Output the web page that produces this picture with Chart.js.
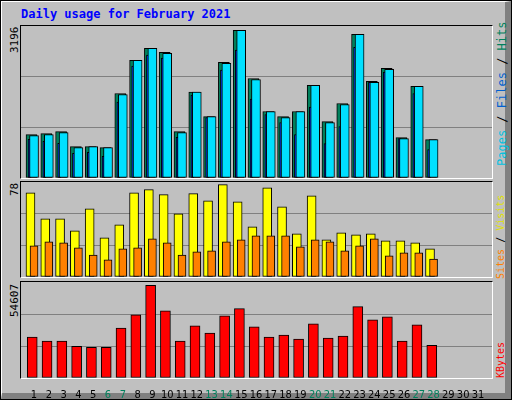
<!DOCTYPE html>
<html>
<head>
<meta charset="utf-8">
<script src="https://cdn.jsdelivr.net/npm/chart.js@4"></script>
<style>
body { margin:0; background:#fff; }
#box { position:absolute; left:0; top:0; width:510px; height:398px; border:1px solid #000; background:#c0c0c0; overflow:hidden; font-family:"DejaVu Sans Mono", monospace; }
#edge { position:absolute; left:0; top:0; width:503px; height:391px; border-top:1px solid #fff; border-left:1px solid #fff; border-right:6px solid #808080; border-bottom:6px solid #808080; box-sizing:content-box; }
.title { position:absolute; left:20px; top:6px; color:#0000ff; font-weight:bold; font-size:12px; }
.panel { position:absolute; left:19px; width:471px; border-top:1px solid #000; border-left:1px solid #000; border-right:1px solid #fff; border-bottom:1px solid #fff; }
canvas { position:absolute; }
.vl { position:absolute; font-size:11px; white-space:nowrap; transform-origin:0 0; transform:rotate(-90deg); }
</style>
</head>
<body>
<div id="box">
  <div id="edge"></div>
  <div class="title">Daily usage for February 2021</div>
  <div class="panel" style="top:24px;height:152px"></div>
  <div class="panel" style="top:180px;height:95px"></div>
  <div class="panel" style="top:280px;height:96px"></div>
  <div class="vl" style="left:7px;top:52px;color:#000">3196</div>
  <div class="vl" style="left:7px;top:195px;color:#000">78</div>
  <div class="vl" style="left:7px;top:316px;color:#000">54607</div>
  <div class="vl" style="left:494px;top:165px;font-size:12px"><span style="color:#00c0e0">Pages</span> / <span style="color:#0060d0">Files</span> / <span style="color:#00805c">Hits</span></div>
  <div class="vl" style="left:494px;top:278px;font-size:10px"><span style="color:#ff8000">Sites</span> / <span style="color:#e0e000">Visits</span></div>
  <div class="vl" style="left:494px;top:377px;font-size:10px;color:#ff0000">KBytes</div>
  <canvas id="c1" style="left:20px;top:25px"></canvas>
  <canvas id="c2" style="left:20px;top:181px"></canvas>
  <canvas id="c3" style="left:20px;top:281px"></canvas>
</div>
<script>
// valori
const days = [1,2,3,4,5,6,7,8,9,10,11,12,13,14,15,16,17,18,19,20,21,22,23,24,25,26,27,28];
const tickDays = [1,2,3,4,5,6,7,8,9,10,11,12,13,14,15,16,17,18,19,20,21,22,23,24,25,26,27,28,29,30,31];
const weekendDays = [6,7,13,14,20,21,27,28];

const hits = [913,934,976,660,660,639,1777,2472,2725,2641,976,1805,1292,2430,3105,2093,1398,1292,1398,1946,1187,1566,3020,2030,2304,850,1925,808];
const files = [892,913,955,639,660,639,1756,2472,2725,2620,955,1805,1292,2409,3105,2072,1398,1271,1398,1946,1166,1545,3020,2009,2283,829,1925,808];
const pages = [815,773,730,520,541,457,1594,2353,2585,2522,857,1742,1271,2269,2690,1658,1335,1166,913,1489,723,1082,2746,2009,2227,829,1777,597];

const visits = [69.2,47.8,47.8,37.9,56,32.1,42.8,69.2,71.7,67.6,51.9,68.4,62.6,75.8,61.8,41.2,73.3,57.7,35.4,66.7,30.5,36.3,34.6,35.4,29.7,29.7,28,23.1];
const sites = [25.5,28.8,28,23.9,18.1,14,23.1,23.9,31.3,28,18.1,20.6,21.4,28.8,30.5,33.8,33.8,33.8,24.7,30.5,28.8,21.4,25.5,31.3,17.3,19.8,19.8,14.8];

const kbytes = [23268,20960,20960,18076,17499,17499,28460,35958,52687,38266,20960,29613,25575,35382,39420,29036,23268,24421,22114,30767,22691,23844,40574,33075,34806,20960,30190,18653];

const maxHits = 3196, maxVisits = 78, maxKB = 54607;

function pts(vals, off) {
    return vals.map((v, i) => ({ x: days[i] + off, y: v }));
}

function ds(vals, off, color, w, order) {
    return { data: pts(vals, off), backgroundColor: color, borderColor: '#000', borderWidth: 1,
             borderSkipped: false, barThickness: w, grouped: false, order: order };
}

function makeChart(id, w, h, datasets, max, showTicks) {
    const cv = document.getElementById(id);
    cv.width = w; cv.height = h;
    cv.style.width = w + 'px'; cv.style.height = h + 'px';
    return new Chart(cv, {
        type: 'bar',
        data: { datasets: datasets },
        options: {
            responsive: false, animation: false,
            layout: { padding: 0 },
            plugins: { legend: { display: false }, tooltip: { enabled: false } },
            scales: {
                x: {
                    type: 'linear', min: 0.12, max: 31.95, offset: false,
                    display: showTicks,
                    grid: { display: false },
                    border: { display: false },
                    afterFit: s => { s.height = showTicks ? 23 : 0; },
                    afterBuildTicks: s => { s.ticks = tickDays.map(d => ({ value: d })); },
                    ticks: {
                        autoSkip: false, maxRotation: 0, padding: 3,
                        font: { family: 'DejaVu Sans Condensed', size: 11 },
                        color: c => weekendDays.includes(c.tick.value) ? '#00805c' : '#000',
                        callback: v => String(v)
                    }
                },
                y: {
                    min: 0, max: max,
                    afterBuildTicks: s => { s.ticks = [0, max / 3, 2 * max / 3, max].map(v => ({ value: v })); },
                    afterFit: s => { s.width = 0; },
                    ticks: { display: false },
                    border: { display: false },
                    grid: { drawTicks: false, lineWidth: 1,
                            color: c => (c.tick.value > 0 && c.tick.value < max) ? '#808080' : 'rgba(0,0,0,0)' }
                }
            }
        }
    });
}

makeChart('c1', 471, 152, [
    ds(hits, -0.17, '#00805c', 11, 3),
    ds(pages, -0.3, '#0040ff', 3, 2),
    ds(files, 0, '#00e0ff', 9, 1)
], maxHits, false);

makeChart('c2', 471, 95, [
    ds(visits, -0.24, '#ffff00', 9, 2),
    ds(sites, 0, '#ff8000', 8, 1)
], maxVisits, false);

makeChart('c3', 471, 119, [
    ds(kbytes, -0.12, '#ff0000', 10, 1)
], maxKB, true);
</script>
</body>
</html>
